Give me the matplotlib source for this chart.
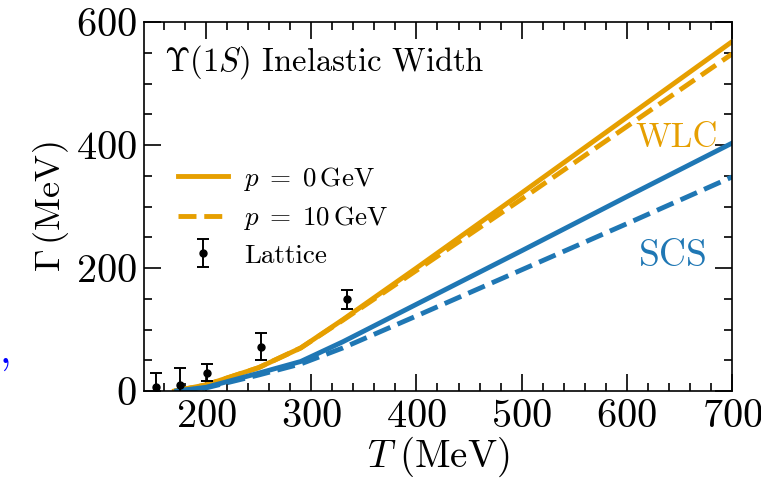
import matplotlib
matplotlib.use("Agg")
import matplotlib.pyplot as plt
from matplotlib.ticker import MultipleLocator

plt.rcParams['font.family'] = 'serif'
plt.rcParams['font.serif'] = ['cmr10']
plt.rcParams['mathtext.fontset'] = 'cm'
plt.rcParams['axes.unicode_minus'] = False
plt.rcParams['axes.formatter.use_mathtext'] = True

# Data
T_grid = [170, 200, 250, 290, 330, 400, 500, 600, 700]
wlc_p0 = [0, 10, 38, 70, 116, 200, 322, 445, 568]
wlc_p10 = [0, 10, 38, 70, 115, 196, 312, 430, 548]
T_scs = [172, 200, 250, 290, 330, 400, 500, 600, 700]
scs_p0 = [0, 6, 29, 48, 80, 141, 228, 316, 403]
scs_p10 = [0, 5, 26, 44, 70, 122, 197, 272, 348]

lat_T = [152, 175, 201, 252, 334]
lat_G = [6, 9, 30, 72, 149]
lat_err = [23, 28, 14, 22, 15]

orange = '#e69f00'
blue = '#1f77b4'

fig = plt.figure(figsize=(7.61, 4.82), dpi=100)
ax = fig.add_axes([144/761, 1-391/482, (732-144)/761, (391-22)/482])

ax.plot(T_grid, wlc_p0, color=orange, lw=3.5, ls='-', label=r'$p\;=\;0\,\mathrm{GeV}$')
ax.plot(T_grid, wlc_p10, color=orange, lw=3.5, ls='--', label=r'$p\;=\;10\,\mathrm{GeV}$')
ax.plot(T_scs, scs_p0, color=blue, lw=3.5, ls='-')
ax.plot(T_scs, scs_p10, color=blue, lw=3.5, ls='--')
ax.errorbar(lat_T, lat_G, yerr=lat_err, fmt='o', color='black', ms=5,
            capsize=4, elinewidth=1.4, capthick=1.4, label='Lattice')

ax.set_xlim(141, 700)
ax.set_ylim(0, 600)
ax.xaxis.set_major_locator(MultipleLocator(100))
ax.xaxis.set_minor_locator(MultipleLocator(20))
ax.yaxis.set_major_locator(MultipleLocator(200))
ax.yaxis.set_minor_locator(MultipleLocator(50))
ax.tick_params(which='both', direction='in', top=True, right=True, labelsize=29, width=1.2)
ax.tick_params(which='major', length=12)
ax.tick_params(which='minor', length=6)
ax.tick_params(axis='x', which='major', pad=6)
ax.tick_params(axis='y', which='major', pad=5)
for s in ax.spines.values():
    s.set_linewidth(1.2)

ax.set_xlabel(r'$T\;(\mathrm{MeV})$', fontsize=28, labelpad=0)
ax.set_ylabel(r'$\Gamma\,(\mathrm{MeV})$', fontsize=26, labelpad=4)

ax.text(164/761, 1-71/482, r'$\Upsilon(1S)$ Inelastic Width', transform=fig.transFigure,
        fontsize=23.5, va='baseline', ha='left')
ax.text(0.976, 0.661, 'WLC', transform=ax.transAxes, color=orange, fontsize=25,
        ha='right', va='baseline')
ax.text(0.959, 0.339, 'SCS', transform=ax.transAxes, color=blue, fontsize=27,
        ha='right', va='baseline')

ax.legend(loc='upper left', bbox_to_anchor=(0.057, 0.613), frameon=False, fontsize=19.5,
          handlelength=1.85, handletextpad=0.6, labelspacing=0.42,
          borderpad=0, borderaxespad=0)

fig.text(0.0, 1-363/482, ',', color='blue', fontsize=30, fontweight='bold',
         va='baseline', ha='left')

fig.savefig('out.png', dpi=100)
